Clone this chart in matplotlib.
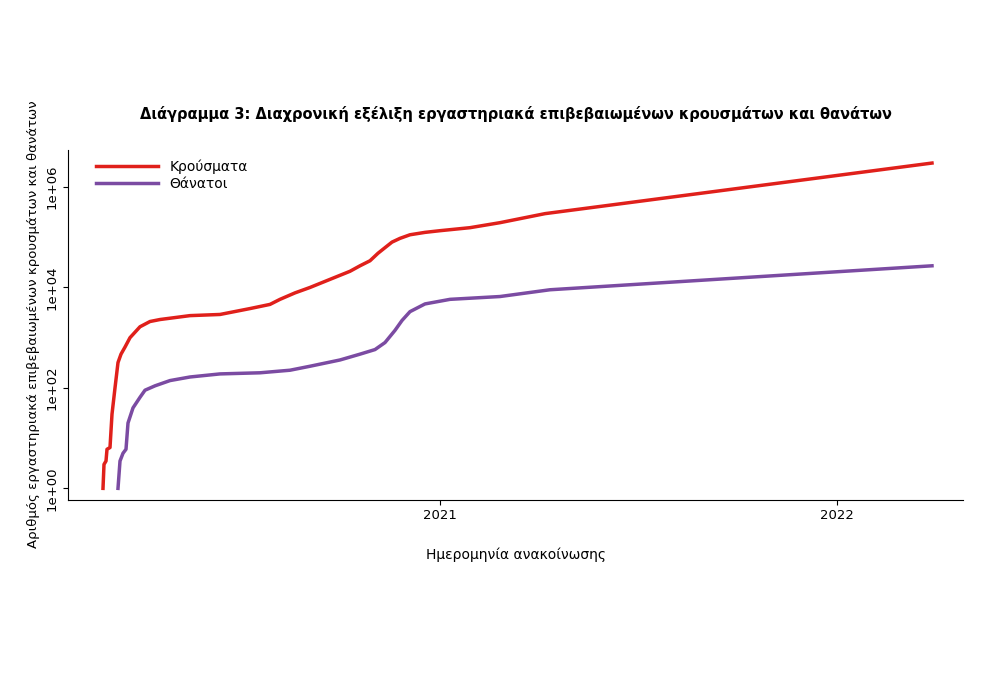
import numpy as np
import pandas as pd
import matplotlib
matplotlib.use("Agg")
import matplotlib.pyplot as plt
import matplotlib.dates as mdates
from matplotlib.ticker import FixedLocator, FuncFormatter

origin = pd.Timestamp("2021-01-01")

def px_to_date(px):
    return [origin + pd.Timedelta(days=(p - 440) / 397 * 365) for p in px]

# cases
case_px = [103, 104, 106, 107, 110, 112, 115, 118, 121, 125, 130, 140, 150, 160, 190, 220, 250, 270,
           280, 295, 310, 330, 350, 360, 370, 378, 385, 392, 400, 410, 425, 440, 470, 500, 545, 932]
case_val = [1, 3, 3.5, 6, 6.5, 30, 100, 320, 470, 650, 1000, 1650, 2100, 2300, 2750, 2900, 3800, 4600,
            5800, 7800, 10000, 14500, 21000, 27000, 34000, 48000, 62000, 80000, 95000, 112000, 125000,
            135000, 155000, 195000, 295000, 3000000]

death_px = [118, 120, 123, 126, 128, 133, 140, 145, 155, 170, 190, 220, 260, 290, 310, 340, 360, 375,
            385, 395, 402, 410, 425, 450, 500, 550, 932]
death_val = [1, 3.5, 5, 6, 20, 40, 65, 90, 110, 140, 165, 190, 200, 225, 270, 360, 470, 580,
             800, 1400, 2200, 3300, 4700, 5800, 6600, 9000, 27000]

fig = plt.figure(figsize=(10, 6.75), dpi=100)
ax = fig.add_axes([0.068, 0.26, 0.895, 0.518])
ax.plot(px_to_date(case_px), case_val, color="#e0201b", lw=2.5, label="Κρούσματα")
ax.plot(px_to_date(death_px), death_val, color="#7b4ba2", lw=2.5, label="Θάνατοι")
ax.set_yscale("log")
ax.set_ylim(0.6, 10 ** 6.74)
ax.set_xlim(px_to_date([68])[0], px_to_date([963])[0])
ax.yaxis.set_major_locator(FixedLocator([1, 1e2, 1e4, 1e6]))
ax.yaxis.set_minor_locator(FixedLocator([]))
ax.yaxis.set_major_formatter(FuncFormatter(lambda v, p: "1e+%02d" % round(np.log10(v))))
for t in ax.get_yticklabels():
    t.set_rotation(90)
    t.set_va("center")
ax.set_xticks([pd.Timestamp("2021-01-01"), pd.Timestamp("2022-01-01")])
ax.xaxis.set_major_formatter(mdates.DateFormatter("%Y"))
ax.tick_params(labelsize=9.5)
ax.spines["top"].set_visible(False)
ax.spines["right"].set_visible(False)
ax.set_xlabel("Ημερομηνία ανακοίνωσης", fontsize=10, labelpad=18)
ax.set_ylabel("Αριθμός εργαστηριακά επιβεβαιωμένων κρουσμάτων και θανάτων", fontsize=9.5)
ax.set_title("Διάγραμμα 3: Διαχρονική εξέλιξη εργαστηριακά επιβεβαιωμένων κρουσμάτων και θανάτων",
             fontsize=10.5, fontweight="bold", pad=22)
ax.legend(loc="upper left", frameon=False, fontsize=10, handlelength=4.5, borderaxespad=0.3,
          labelspacing=0.2, bbox_to_anchor=(0.02, 1.0))
fig.savefig("out.png", dpi=100)
